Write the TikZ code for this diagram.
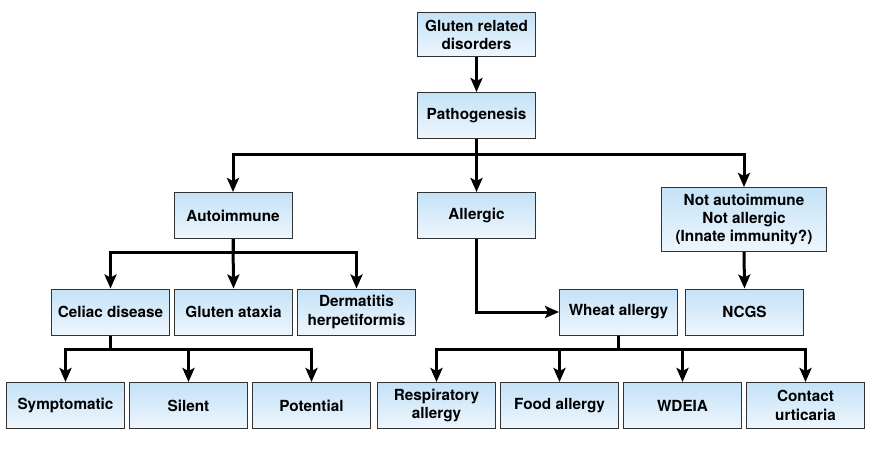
\documentclass[tikz,border=0pt]{standalone}
\usepackage{fontspec}
\setmainfont{TeX Gyre Heros}
\usepackage{tikz}
\usetikzlibrary{arrows.meta,positioning}
\usepackage{xcolor}
\definecolor{boxtop}{RGB}{196,226,247}
\definecolor{boxbot}{RGB}{238,246,253}
\definecolor{boxline}{RGB}{50,50,50}

\begin{document}
\begin{tikzpicture}[
        x=1pt, y=-1pt,
        node distance=4pt,
        box/.style={rectangle, draw=boxline, line width=1pt,
                    top color=boxtop, bottom color=boxbot,
                    minimum width=118pt, minimum height=46pt,
                    inner sep=2pt, align=center,
                    font=\fontsize{15.3}{18.3}\selectfont\bfseries},
        arr/.style={line width=3pt, -{Stealth[length=14pt, width=12pt, inset=3pt]}}
      ]
      \useasboundingbox (0,0) rectangle (877,473);

      % top of the tree
      \node[box, minimum height=44pt] (grd) at (476.5,35) {Gluten related\\disorders};
      \node[box] (patho) at (476.5,115.5) {Pathogenesis};

      % second level
      \node[box] (auto) at (233,215.5) {Autoimmune};
      \node[box] (allerg) at (476.5,215.5) {Allergic};
      \node[box, minimum width=165pt, minimum height=64pt] (notai) at (744,219.5)
            {Not autoimmune\\Not allergic\\(Innate immunity?)};

      % third level
      \node[box] (celiac) at (110.5,312) {Celiac disease};
      \node[box, right=of celiac] (ataxia) {Gluten ataxia};
      \node[box, right=of ataxia] (derm) {Dermatitis\\herpetiformis};
      \node[box] (wheat) at (618.5,312) {Wheat allergy};
      \node[box, right=7pt of wheat] (ncgs) {NCGS};

      % bottom row
      \node[box] (sympt) at (65.5,405.5) {Symptomatic};
      \node[box, right=of sympt] (silent) {Silent};
      \node[box, right=of silent] (potent) {Potential};
      \node[box, right=6pt of potent] (resp) {Respiratory\\allergy};
      \node[box, right=of resp] (food) {Food allergy};
      \node[box, right=of food] (wdeia) {WDEIA};
      \node[box, right=of wdeia] (contact) {Contact\\urticaria};

      \draw[arr] (grd) -- (patho);

      \draw[arr] (patho.south) -- ++(0,16) -| (auto.north);
      \draw[arr] (patho.south) -- (allerg.north);
      \draw[arr] (patho.south) -- ++(0,16) -| (notai.north);

      \draw[arr] (auto.south) -- ++(0,13) -| (celiac.north);
      \draw[arr] (auto.south) -- (ataxia.north);
      \draw[arr] (auto.south) -- ++(0,13) -| (derm.north);

      \draw[arr] (allerg.south) |- (wheat.west);
      \draw[arr] (notai.south) -- (ncgs.north);

      \draw[arr] (celiac.south) -- ++(0,14) -| (sympt.north);
      \draw[arr] (celiac.south) -- ++(0,14) -| (silent.north);
      \draw[arr] (celiac.south) -- ++(0,14) -| (potent.north);

      \draw[arr] (wheat.south) -- ++(0,14) -| (resp.north);
      \draw[arr] (wheat.south) -- ++(0,14) -| (food.north);
      \draw[arr] (wheat.south) -- ++(0,14) -| (wdeia.north);
      \draw[arr] (wheat.south) -- ++(0,14) -| (contact.north);
    \end{tikzpicture}
\end{document}
